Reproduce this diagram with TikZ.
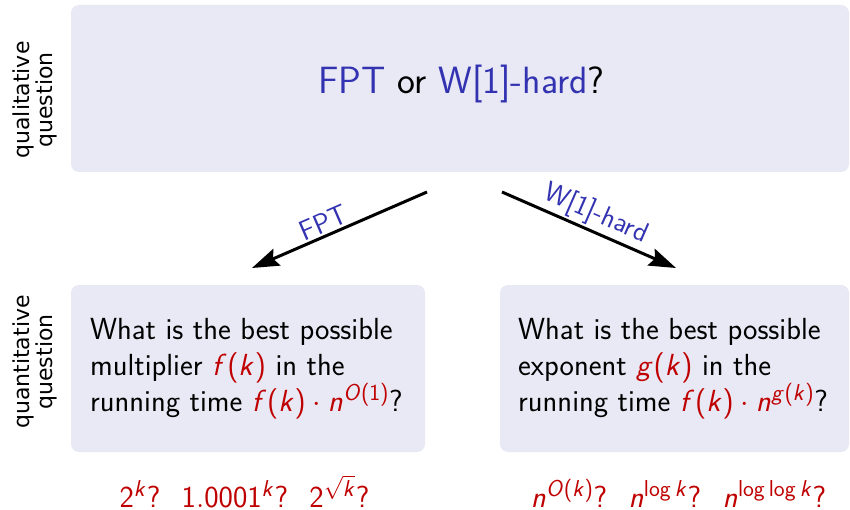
\documentclass[tikz,border=0pt]{standalone}
\usepackage{fix-cm}
\usepackage[no-math]{fontspec}
\usetikzlibrary{arrows.meta}
\newfontfamily\sidefont{DejaVu Sans}
% sans-serif math: upright digits and operators, slanted letters
\DeclareSymbolFont{operators}{OT1}{cmss}{m}{n}
\DeclareSymbolFont{sfslant}{OT1}{cmss}{m}{sl}
\DeclareMathSymbol{f}{\mathalpha}{sfslant}{`f}
\DeclareMathSymbol{g}{\mathalpha}{sfslant}{`g}
\DeclareMathSymbol{k}{\mathalpha}{sfslant}{`k}
\DeclareMathSymbol{n}{\mathalpha}{sfslant}{`n}
\DeclareMathSymbol{O}{\mathalpha}{sfslant}{`O}
\DeclareMathSizes{30.5}{30.5}{23}{17}
\definecolor{boxbg}{RGB}{233,233,245}
\definecolor{struct}{RGB}{51,51,178}
\definecolor{alertred}{RGB}{191,0,0}
\begin{document}
\begin{tikzpicture}[x=1pt,y=1pt,
  qbox/.style={fill=boxbg, rounded corners=8pt, draw=none, inner sep=0pt},
  boxtext/.style={font=\sffamily\fontsize{30.5}{35.5}\selectfont, align=left, inner sep=0pt, anchor=west},
  sidelabel/.style={font=\sidefont\fontsize{22}{23}\selectfont, rotate=90, align=center, inner sep=0pt},
  branch/.style={line width=3pt, -{Stealth[length=27pt,width=18pt,inset=4pt]}},
  branchlabel/.style={font=\sffamily\fontsize{28}{32}\selectfont, text=struct, sloped, above, inner sep=2pt},
  answers/.style={font=\sffamily\fontsize{30.5}{35}\selectfont, text=alertred, anchor=base, inner sep=0pt}]
\useasboundingbox (0,0) rectangle (850,509);

% qualitative level
\node[qbox, minimum width=778pt, minimum height=167pt] (top) at (460,420.5) {};
\node[anchor=base, inner sep=0pt, font=\sffamily\fontsize{38}{45}\selectfont] (question) at (461.5,415)
  {\textcolor{struct}{FPT} or \textcolor{struct}{W[1]-hard}?};
\node[sidelabel] (qual) at (35,409) {qualitative\\question};

% quantitative level
\node[qbox, minimum width=354pt, minimum height=167pt] (mult) at (248,140.5) {};
\node[qbox, minimum width=349pt, minimum height=167pt] (expo) at (674.5,140.5) {};
\node[boxtext] (multtext) at (90,140)
  {What is the best possible\\multiplier \textcolor{alertred}{$f(k)$} in the\\running time \textcolor{alertred}{$f(k)\cdot n^{O(1)}$}?};
\node[boxtext] (expotext) at (518,140)
  {What is the best possible\\exponent \textcolor{alertred}{$g(k)$} in the\\running time \textcolor{alertred}{$f(k)\cdot n^{g(k)}$}?};
\node[sidelabel] (quant) at (35,147) {quantitative\\question};

% branches
\coordinate (fptfrom) at (427,317);
\coordinate (fptto) at (252,241);
\coordinate (hardfrom) at (502,317);
\coordinate (hardto) at (676,241);
\draw[branch] (fptfrom) -- node[branchlabel, pos=0.56] (fptlabel) {FPT} (fptto);
\draw[branch] (hardfrom) -- node[branchlabel, pos=0.5] (hardlabel) {W[1]-hard} (hardto);

% candidate answers
\node[answers] (multans) at (244.5,1.5) {$2^{k}$?\hspace{0.7em}$1.0001^{k}$?\hspace{0.7em}$2^{\sqrt{k}}$?};
\node[answers] (expoans) at (678.5,1.5) {$n^{O(k)}$?\hspace{0.7em}$n^{\log k}$?\hspace{0.7em}$n^{\log\log k}$?};
\end{tikzpicture}
\end{document}
